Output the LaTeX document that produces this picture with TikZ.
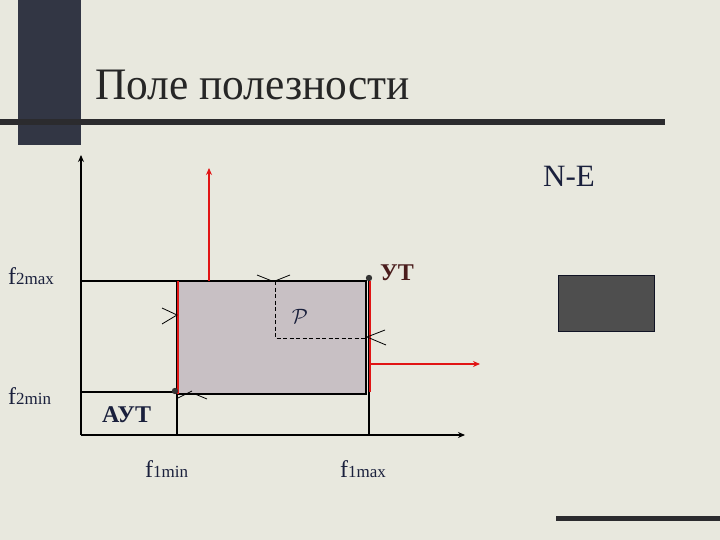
\documentclass[tikz,border=0pt]{standalone}
\usepackage{fontspec}
\setmainfont{Liberation Serif}
\usetikzlibrary{arrows.meta}
\definecolor{slidebg}{RGB}{232,232,222}
\definecolor{barcol}{RGB}{50,54,68}
\definecolor{rulecol}{RGB}{43,43,46}
\definecolor{fieldcol}{RGB}{200,192,196}
\definecolor{boxcol}{RGB}{78,78,78}
\definecolor{navy}{RGB}{26,32,60}
\definecolor{maroon}{RGB}{74,28,28}
\definecolor{redline}{RGB}{225,20,20}
\begin{document}
\begin{tikzpicture}[x=1pt, y=-1pt, line join=miter]
      \tikzset{
	  axis/.style={black, line width=1.6pt, -{Stealth[length=7pt,width=6pt]}},
	  thin line/.style={black, line width=1.1pt},
	  red line/.style={redline, line width=1.8pt},
	  red arrow/.style={redline, line width=1.8pt, -{Stealth[length=7pt,width=6pt]}},
	  cone/.style={black, line width=0.8pt},
	  mylabel/.style={inner sep=0pt, anchor=base west, text=navy},
	  flabel/.style={mylabel, font=\fontsize{24}{26}\selectfont}
      }
      \newcommand{\sublabel}[2]{f{\fontsize{17}{19}\selectfont #1#2}}

      \useasboundingbox (0,0) rectangle (720,540);
      \fill[slidebg] (0,0) rectangle (720,540);

      \fill[barcol] (18,0) rectangle (81,145);
      \fill[rulecol] (0,119) rectangle (665,125);
      \fill[rulecol] (556,516) rectangle (720,521);
      \draw[fill=boxcol, draw=navy!60!black, line width=0.8pt] (558,275) rectangle (654,331);

      \node[mylabel, text=black!85, font=\fontsize{45}{50}\selectfont, xscale=0.965] (title) at (95,100) {Поле полезности};
      \node[mylabel, font=\fontsize{31}{34}\selectfont] (ne) at (543,187) {N-E};

      \coordinate (O) at (81,435);
      \coordinate (ytop) at (81,155);
      \coordinate (xend) at (465,435);
      \coordinate (f1minB) at (177,435);
      \coordinate (f1maxB) at (369,435);
      \coordinate (f2maxL) at (81,281);
      \coordinate (f2minL) at (81,392);
      \coordinate (fieldNW) at (178,281);
      \coordinate (fieldSE) at (366,394);
      \coordinate (ut) at (369,278);
      \coordinate (aut) at (175,391);
      \coordinate (pTop) at (275,281);
      \coordinate (pCorner) at (275,338);
      \coordinate (pRight) at (367,338);

      \fill[fieldcol] (fieldNW) rectangle (fieldSE);
      \draw[thin line] (fieldNW) -- (366,281) -- (fieldSE) -- (178,394);

      \draw[thin line] (f2maxL) -- (fieldNW);
      \draw[thin line] (f2minL) -- (178,392);
      \draw[thin line] (177,281) -- (f1minB);
      \draw[thin line] (369,281) -- (f1maxB);

      \draw[red line] (178,281) -- (178,394);
      \draw[red line] (370,281) -- (370,392);
      \draw[red arrow] (209,281) -- (209,168);
      \draw[red arrow] (370,364) -- (480,364);

      \draw[black, line width=0.9pt, dash pattern=on 4pt off 2.5pt] (pTop) -- (pCorner) -- (pRight);

      \draw[cone] (257,275) -- (272,281) (275,281) -- (290,275);
      \draw[cone] (162,308) -- (177,315) -- (162,324);
      \draw[cone] (385,330) -- (367,337) -- (386,345);
      \draw[cone] (178,398) -- (192,391) (195,394) -- (207,399);

      \draw[axis] (O) -- (ytop);
      \draw[axis] (O) -- (xend);

      \fill[black!80] (ut) circle (3.2pt);
      \fill[black!80] (aut) circle (3.2pt);

      \node[mylabel, text=maroon, font=\fontsize{24}{26}\selectfont\bfseries] (utlabel) at (380,280) {УТ};
      \node[mylabel, font=\fontsize{24}{26}\selectfont\bfseries] (autlabel) at (102,422) {АУТ};
      \node[inner sep=0pt, text=navy, font=\fontsize{22}{24}\selectfont] (plabel) at (300,316) {$\mathcal{P}$};

      \node[flabel] (f2max) at (8,284) {\sublabel{2}{max}};
      \node[flabel] (f2min) at (8,404) {\sublabel{2}{min}};
      \node[flabel] (f1min) at (145,477) {\sublabel{1}{min}};
      \node[flabel] (f1max) at (340,477) {\sublabel{1}{max}};
    \end{tikzpicture}
\end{document}
